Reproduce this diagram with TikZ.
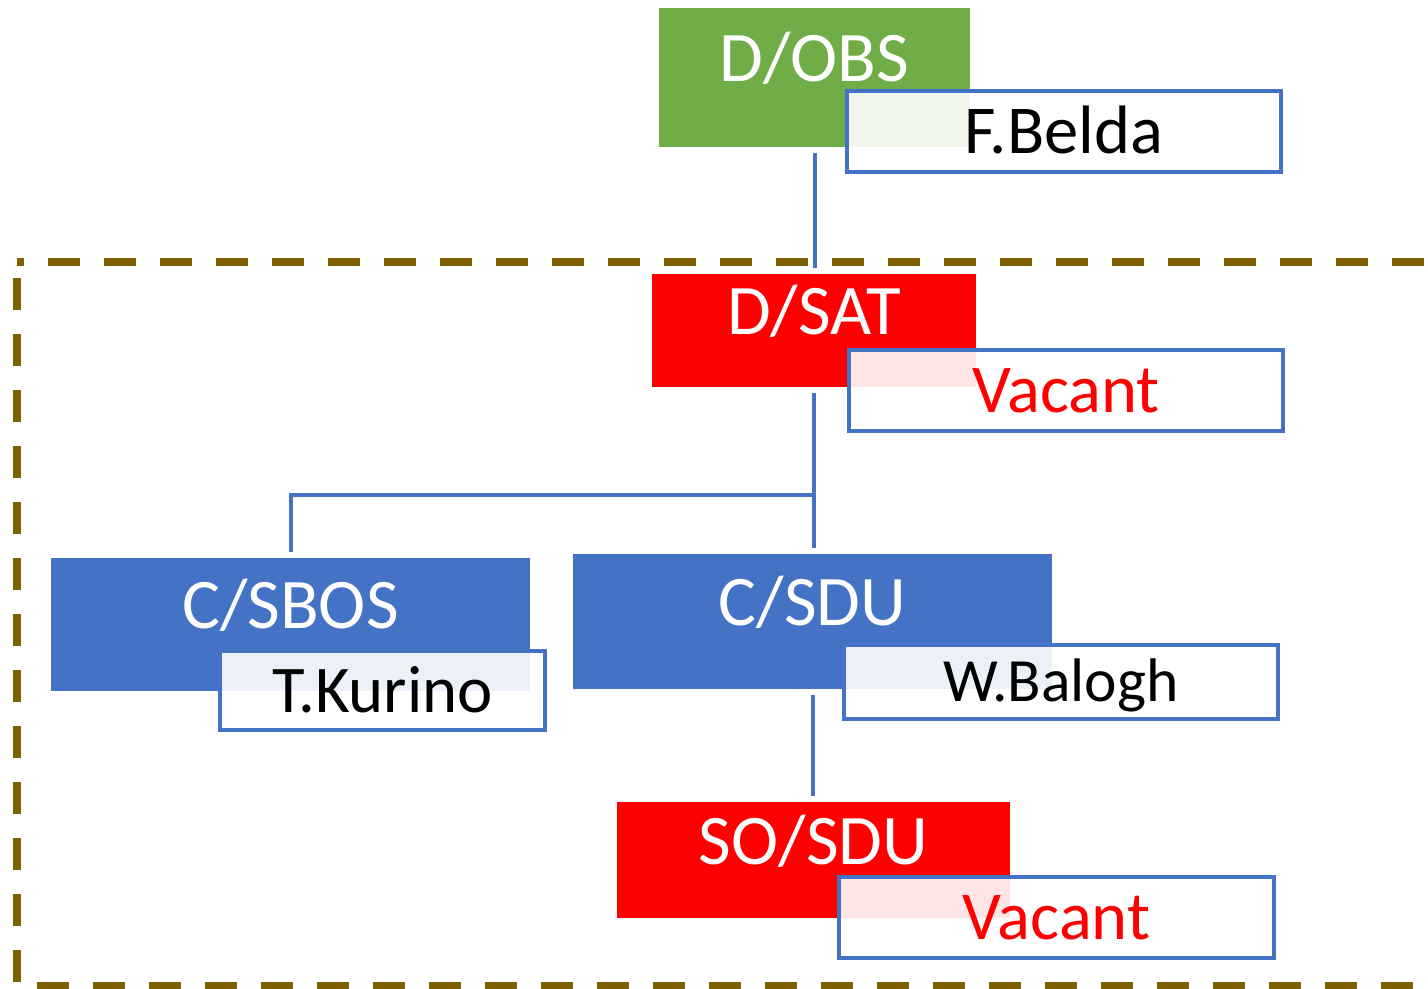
\documentclass[tikz,border=0pt]{standalone}
\usepackage{fontspec}
\setmainfont{Carlito}

\definecolor{obsgreen}{HTML}{70AD47}
\definecolor{satred}{HTML}{FF0000}
\definecolor{unitblue}{HTML}{4472C4}
\definecolor{frameolive}{HTML}{7F6000}

\tikzset{
  unitbox/.style={rectangle, inner sep=0pt, text=white,
    font=\fontsize{40.5}{48}\selectfont, text height=0.9cm, text depth=0.72cm},
  namebox/.style={rectangle, draw=unitblue, line width=0.09cm, fill=white,
    fill opacity=0.9, text opacity=1, inner sep=0pt,
    font=\fontsize{39}{46}\selectfont, text height=0.89cm, text depth=0pt,
    minimum width=8.68cm, minimum height=1.62cm},
  link/.style={draw=unitblue, line width=0.08cm, shorten <=0.12cm, shorten >=0.12cm},
}

\begin{document}
\begin{tikzpicture}[x=0.02cm, y=-0.02cm]
\useasboundingbox (0,0) rectangle (1428,989);

% dashed frame round the satellite division
\begin{scope}
\clip (0,0) rectangle (1428,989);
\draw[frameolive, line width=0.16cm, dash pattern=on 0.64cm off 0.48cm, dash phase=0.8cm]
  (17,262) rectangle (1460,986);
\end{scope}

% units with their heads
\node[unitbox, fill=obsgreen, minimum width=6.22cm, minimum height=2.78cm] (dobs) at (814.5,77.5) {D/OBS};
\node[namebox] (dobsname) at (1064,131.5) {F.Belda};

\node[unitbox, fill=satred, minimum width=6.48cm, minimum height=2.26cm] (dsat) at (814,330.5) {D/SAT};
\node[namebox, text=satred] (dsatname) at (1066,390.5) {Vacant};

\node[unitbox, fill=unitblue, minimum width=9.58cm, minimum height=2.66cm] (csbos) at (290.5,624.5) {C/SBOS};
\node[namebox, minimum width=6.5cm, minimum height=1.58cm,
  font=\fontsize{38}{45}\selectfont, text height=0.87cm] (csbosname) at (382.5,690.5) {T.Kurino};

\node[unitbox, fill=unitblue, minimum width=9.58cm, minimum height=2.7cm] (csdu) at (812.5,621.5) {C/SDU};
\node[namebox, minimum height=1.48cm,
  font=\fontsize{35}{42}\selectfont, text height=0.8cm] (csduname) at (1061,682) {W.Balogh};

\node[unitbox, fill=satred, minimum width=7.86cm, minimum height=2.32cm] (sosdu) at (813.5,860) {SO/SDU};
\node[namebox, text=satred, minimum width=8.7cm] (sosduname) at (1056.5,917.5) {Vacant};

% reporting lines
\coordinate (fork) at (814,495);
\draw[link] (dobs.south) -- (dobs.south |- dsat.north);
\draw[link] (dsat.south) -- (dsat.south |- csdu.north);
\draw[link, shorten <=0pt] (fork) -| (csbos.north);
\draw[link] (csdu.south) -- (csdu.south |- sosdu.north);
\end{tikzpicture}
\end{document}
